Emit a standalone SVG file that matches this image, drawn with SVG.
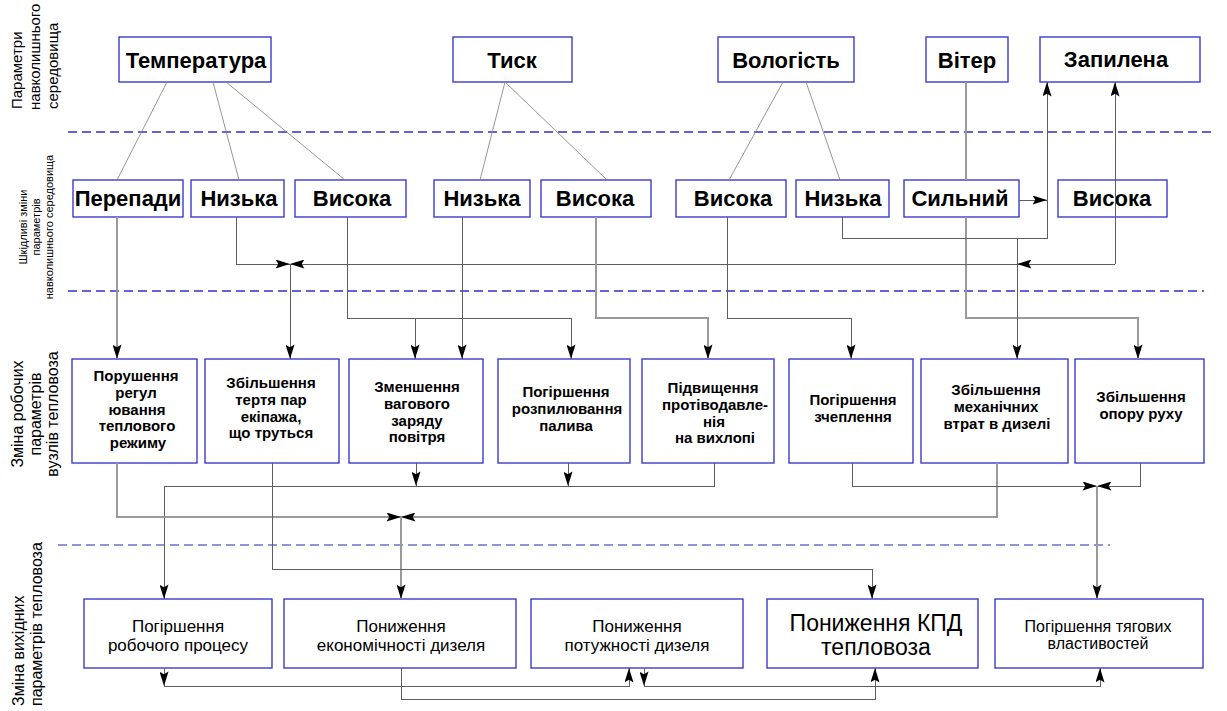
<svg xmlns="http://www.w3.org/2000/svg" width="1227" height="711" viewBox="0 0 1227 711">
<style>
.box{fill:#fff;stroke:#3b3bcc;stroke-width:1.4}
.t1{font-family:"Liberation Sans",Arial,sans-serif;font-weight:bold;font-size:22px;text-anchor:middle;fill:#000}
.t3{font-family:"Liberation Sans",Arial,sans-serif;font-weight:bold;font-size:15px;text-anchor:middle;fill:#000}
.t4{font-family:"Liberation Sans",Arial,sans-serif;font-size:17px;text-anchor:middle;fill:#000}
.t5{font-family:"Liberation Sans",Arial,sans-serif;font-size:16px;text-anchor:middle;fill:#000}
.kpd{font-family:"Liberation Sans",Arial,sans-serif;font-size:23px;text-anchor:middle;fill:#000}
.lab{font-family:"Liberation Sans",Arial,sans-serif;font-size:16px;fill:#000}
.lab1{font-family:"Liberation Sans",Arial,sans-serif;font-size:15px;fill:#000}
.lab2{font-family:"Liberation Sans",Arial,sans-serif;font-size:11px;fill:#000;text-anchor:middle}
.dash{stroke:#2f2fd0;stroke-width:1.3;stroke-dasharray:9 5;fill:none}
.dash2{stroke:#6f6fd0;stroke-width:1.3;stroke-dasharray:9 5;fill:none}
.ln{stroke:#8a8a8a;stroke-width:0.9;fill:none}
.c{stroke:#5e5e5e;stroke-width:1;fill:none;shape-rendering:crispEdges}
.cl{stroke:#9a9a9a;stroke-width:1.2;fill:none;shape-rendering:crispEdges}
.a{marker-end:url(#ar)}
</style>
<defs>
<marker id="ar" viewBox="0 0 16 10" markerWidth="16" markerHeight="9" refX="16" refY="5" orient="auto" markerUnits="userSpaceOnUse">
<path d="M0,0 L16,5 L0,10 L3,5 z" fill="#000" shape-rendering="geometricPrecision"/>
</marker>
</defs>
<rect width="1227" height="711" fill="#fff"/>

<g id="labels">
<text class="lab1" transform="translate(22,109) rotate(-90)">Параметри</text>
<text class="lab1" transform="translate(40,110) rotate(-90)">навколишнього</text>
<text class="lab1" transform="translate(58,109) rotate(-90)">середовища</text>
<text class="lab2" transform="translate(27,227) rotate(-90)">Шкідливі зміни</text>
<text class="lab2" transform="translate(40,227) rotate(-90)">параметрів</text>
<text class="lab2" transform="translate(53,227) rotate(-90)">навколишнього середовища</text>
<text class="lab" style="text-anchor:middle" transform="translate(23,414) rotate(-90)">Зміна робочих</text>
<text class="lab" style="text-anchor:middle" transform="translate(41,414) rotate(-90)">параметрів</text>
<text class="lab" style="text-anchor:middle" transform="translate(58,414) rotate(-90)">вузлів тепловоза</text>
<text class="lab" transform="translate(24,706) rotate(-90)">Зміна вихідних</text>
<text class="lab" transform="translate(42,706) rotate(-90)">параметрів тепловоза</text>
</g>

<g id="separators">
<line class="dash" x1="68" y1="132" x2="1214" y2="132"/>
<line class="dash" x1="68" y1="291" x2="1204" y2="291"/>
<line class="dash2" x1="58" y1="545" x2="1110" y2="545"/>
</g>

<g id="n-temperatura"><rect class="box" x="119" y="37" width="152" height="45"/><text class="t1" x="196" y="68">Температура</text></g>
<g id="n-tysk"><rect class="box" x="453" y="37" width="119" height="45"/><text class="t1" x="512" y="68">Тиск</text></g>
<g id="n-volohist"><rect class="box" x="718" y="37" width="136" height="45"/><text class="t1" x="786" y="68">Вологість</text></g>
<g id="n-viter"><rect class="box" x="926" y="37" width="82" height="45"/><text class="t1" x="967" y="68">Вітер</text></g>
<g id="n-zapylena"><rect class="box" x="1040" y="37" width="160" height="45"/><text class="t1" x="1116" y="67">Запилена</text></g>

<g id="n-perepady"><rect class="box" x="73" y="180" width="110" height="37"/><text class="t1" x="128" y="206">Перепади</text></g>
<g id="n-nyzka1"><rect class="box" x="191" y="180" width="93" height="37"/><text class="t1" x="239" y="206">Низька</text></g>
<g id="n-vysoka1"><rect class="box" x="295" y="180" width="111" height="37"/><text class="t1" x="352" y="206">Висока</text></g>
<g id="n-nyzka2"><rect class="box" x="434" y="180" width="96" height="37"/><text class="t1" x="482" y="206">Низька</text></g>
<g id="n-vysoka2"><rect class="box" x="541" y="180" width="110" height="37"/><text class="t1" x="595" y="206">Висока</text></g>
<g id="n-vysoka3"><rect class="box" x="676" y="180" width="110" height="37"/><text class="t1" x="733" y="206">Висока</text></g>
<g id="n-nyzka3"><rect class="box" x="796" y="180" width="93" height="37"/><text class="t1" x="843" y="206">Низька</text></g>
<g id="n-sylnyi"><rect class="box" x="904" y="180" width="115" height="37"/><text class="t1" x="960" y="206">Сильний</text></g>
<g id="n-vysoka4"><rect class="box" x="1058" y="180" width="109" height="37"/><text class="t1" x="1112" y="206">Висока</text></g>

<g id="n-porushennia"><rect class="box" x="72" y="359" width="125" height="104"/>
<text class="t3" y="381"><tspan x="136">Порушення</tspan><tspan x="136" dy="16.8">регул</tspan><tspan x="137" dy="16.8">ювання</tspan><tspan x="137" dy="16.8">теплового</tspan><tspan x="138" dy="16.8">режиму</tspan></text></g>
<g id="n-tertia"><rect class="box" x="205" y="359" width="134" height="104"/>
<text class="t3" y="388"><tspan x="271">Збільшення</tspan><tspan x="271" dy="16.8">тертя пар</tspan><tspan x="271" dy="16.8">екіпажа,</tspan><tspan x="271" dy="16.8">що труться</tspan></text></g>
<g id="n-zaryad"><rect class="box" x="349" y="359" width="134" height="104"/>
<text class="t3" y="392"><tspan x="417">Зменшення</tspan><tspan x="417" dy="16.8">вагового</tspan><tspan x="417" dy="16.8">заряду</tspan><tspan x="417" dy="16.8">повітря</tspan></text></g>
<g id="n-rozpyl"><rect class="box" x="498" y="359" width="132" height="104"/>
<text class="t3" y="397"><tspan x="566">Погіршення</tspan><tspan x="567" dy="16.8">розпилювання</tspan><tspan x="566" dy="16.8">палива</tspan></text></g>
<g id="n-protyvodavl"><rect class="box" x="642" y="359" width="132" height="104"/>
<text class="t3" y="393"><tspan x="713">Підвищення</tspan><tspan x="715" dy="16.8">протіводавле-</tspan><tspan x="714" dy="16.8">нія</tspan><tspan x="715" dy="16.8">на вихлопі</tspan></text></g>
<g id="n-zcheplennia"><rect class="box" x="789" y="359" width="124" height="104"/>
<text class="t3" y="405"><tspan x="853">Погіршення</tspan><tspan x="853" dy="16.8">зчеплення</tspan></text></g>
<g id="n-mekh"><rect class="box" x="921" y="359" width="147" height="104"/>
<text class="t3" y="395"><tspan x="996">Збільшення</tspan><tspan x="996" dy="16.8">механічних</tspan><tspan x="997" dy="16.8">втрат в дизелі</tspan></text></g>
<g id="n-opor"><rect class="box" x="1075" y="359" width="129" height="104"/>
<text class="t3" y="402"><tspan x="1141">Збільшення</tspan><tspan x="1141" dy="16.8">опору руху</tspan></text></g>

<g id="n-robochyi"><rect class="box" x="84" y="599" width="188" height="69"/>
<text class="t4" y="632"><tspan x="178">Погіршення</tspan><tspan x="178" dy="19">робочого процесу</tspan></text></g>
<g id="n-ekonom"><rect class="box" x="284" y="599" width="232" height="69"/>
<text class="t4" y="632"><tspan x="401">Пониження</tspan><tspan x="401" dy="19">економічності дизеля</tspan></text></g>
<g id="n-potuzh"><rect class="box" x="531" y="599" width="212" height="69"/>
<text class="t4" y="632"><tspan x="637">Пониження</tspan><tspan x="637" dy="19">потужності дизеля</tspan></text></g>
<g id="n-kpd"><rect class="box" x="767" y="599" width="211" height="69"/>
<text class="kpd" y="631"><tspan x="876">Пониження КПД</tspan><tspan x="876" dy="24">тепловоза</tspan></text></g>
<g id="n-tyaga"><rect class="box" x="995" y="599" width="208" height="69"/>
<text class="t5" y="632"><tspan x="1098">Погіршення тягових</tspan><tspan x="1098" dy="17">властивостей</tspan></text></g>

<g id="connectors">
<line class="ln" x1="167" y1="82" x2="117" y2="180"/>
<line class="ln" x1="213" y1="82" x2="239" y2="180"/>
<line class="ln" x1="226" y1="82" x2="345" y2="180"/>
<line class="ln" x1="505" y1="82" x2="480" y2="180"/>
<line class="ln" x1="505" y1="82" x2="607" y2="180"/>
<line class="ln" x1="783" y1="82" x2="729" y2="180"/>
<line class="ln" x1="806" y1="82" x2="840" y2="180"/>

<line class="cl" x1="966" y1="82" x2="966" y2="180"/>
<path class="cl a" d="M966,217 V318 H1138 V359"/>
<line class="c a" x1="1019" y1="200" x2="1047" y2="200"/>
<path class="c a" d="M842,217 V238 H1047 V82"/>
<line class="c a" x1="1017" y1="238" x2="1017" y2="359"/>
<path class="c a" d="M1115,264 V82"/>
<line class="c a" x1="1115" y1="264" x2="1017" y2="264"/>
<line class="c a" x1="1017" y1="264" x2="290" y2="264"/>
<path class="c a" d="M236,217 V264 H290"/>
<line class="c a" x1="290" y1="264" x2="290" y2="359"/>

<line class="cl a" x1="117" y1="217" x2="117" y2="359"/>
<path class="c a" d="M347,217 V318 H571 V359"/>
<line class="c a" x1="415" y1="318" x2="415" y2="359"/>
<line class="c a" x1="462" y1="217" x2="462" y2="359"/>
<path class="cl a" d="M596,217 V318 H708 V359"/>
<path class="c a" d="M727,217 V318 H851 V359"/>

<line class="c a" x1="416" y1="463" x2="416" y2="486"/>
<line class="c a" x1="568" y1="463" x2="568" y2="486"/>
<path class="c a" d="M714,463 V486 H164 V599"/>
<path class="cl a" d="M117,463 V517 H401"/>
<path class="cl a" d="M997,463 V517 H401"/>
<line class="cl a" x1="401" y1="517" x2="401" y2="599"/>
<path class="c a" d="M272,463 V569 H872 V599"/>
<path class="c a" d="M852,463 V486 H1097"/>
<path class="c a" d="M1140,463 V486 H1097"/>
<line class="cl a" x1="1097" y1="486" x2="1097" y2="599"/>

<line class="c a" x1="164" y1="668" x2="164" y2="686"/>
<path class="c a" d="M164,686 H629 V668"/>
<line class="c a" x1="644" y1="668" x2="644" y2="686"/>
<path class="c a" d="M644,686 H1100 V668"/>
<path class="c a" d="M401,668 V699 H875 V668"/>
</g>
</svg>
